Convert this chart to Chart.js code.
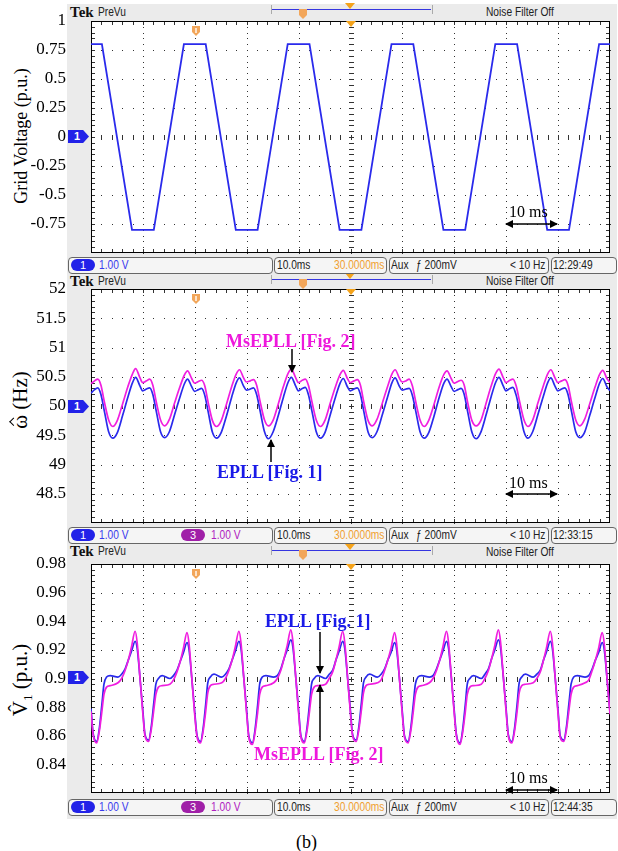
<!DOCTYPE html>
<html>
<head>
<meta charset="utf-8">
<title>EPLL / MsEPLL scope captures</title>
<script src="https://cdn.jsdelivr.net/npm/chart.js@4.4.1/dist/chart.umd.min.js"></script>
<style>
  body { margin:0; width:618px; height:851px; background:#fff; position:relative; overflow:hidden; font-family:"Liberation Serif","Times New Roman",serif; }
  .bezel { position:absolute; left:67px; top:4px; width:550px; height:815px; background:#ebebeb; }
  .tek { position:absolute; left:70px; font:bold 15px "Liberation Serif",serif; color:#111; line-height:15px; }
  .scr { position:absolute; white-space:nowrap; font-family:"Liberation Sans",sans-serif; font-size:12px; line-height:14px; color:#222; transform:scaleX(0.85); transform-origin:0 0; }
  .box { position:absolute; height:17px; border:1px solid #666; border-radius:4px; background:#f5f5f5; box-sizing:border-box; }
  .pill { position:absolute; width:24px; height:12px; border-radius:6px; color:#fff; text-align:center; line-height:12px; font-family:"Liberation Sans",sans-serif; font-size:11px; }
  .brk { position:absolute; height:9px; border:1px solid #aaa; border-top:none; border-bottom:none; }
  .bline { position:absolute; height:1px; background:#3535e0; }
  .otri { position:absolute; width:10px; height:6px; background:#f5a31a; clip-path:polygon(0 0,100% 0,50% 100%); }
  .oshield { position:absolute; width:8px; height:10px; background:#f2a65a; clip-path:polygon(0 0,100% 0,100% 60%,50% 100%,0 60%); }
  .chmark { position:absolute; left:68px; width:21px; height:13px; background:#2222e8; color:#fff; font:bold 11px "Liberation Sans",sans-serif; line-height:13px; padding-left:6px; box-sizing:border-box; clip-path:polygon(0 0,72% 0,100% 50%,72% 100%,0 100%); }
  .ytitle { position:absolute; transform:translate(-50%,-50%) rotate(-90deg); white-space:nowrap; color:#000; font-family:"Liberation Serif",serif; }
  .hat { display:inline-block; position:relative; }
  .hat i { position:absolute; left:50%; top:3px; width:5px; height:5px; border-top:1px solid #000; border-left:1px solid #000; transform:translateX(-50%) rotate(45deg); }
  .note { position:absolute; font:bold 18px "Liberation Serif",serif; white-space:nowrap; line-height:18px; }
  .ms { position:absolute; font:16px "Liberation Serif",serif; white-space:nowrap; line-height:16px; }
  canvas { position:absolute; left:0; }
  svg { position:absolute; left:0; top:0; }
</style>
</head>
<body>
<div class="bezel"></div>

<!-- headers -->
<div class="tek" style="top:5px">Tek</div><div class="scr" style="left:98px;top:5px">PreVu</div>
<div class="tek" style="top:274px">Tek</div><div class="scr" style="left:98px;top:274px">PreVu</div>
<div class="tek" style="top:544px">Tek</div><div class="scr" style="left:98px;top:544px">PreVu</div>
<div class="brk" style="left:271px;top:5px;width:160px"></div><div class="bline" style="left:272px;top:9px;width:159px"></div>
<div class="brk" style="left:271px;top:275px;width:160px"></div><div class="bline" style="left:272px;top:279px;width:159px"></div>
<div class="brk" style="left:271px;top:546px;width:160px"></div><div class="bline" style="left:272px;top:550px;width:159px"></div>
<div class="otri" style="left:345px;top:3px"></div><div class="oshield" style="left:299px;top:9px"></div>
<div class="otri" style="left:345px;top:273px"></div><div class="oshield" style="left:299px;top:279px"></div>
<div class="otri" style="left:345px;top:544px"></div><div class="oshield" style="left:299px;top:550px"></div>
<div class="scr" style="left:486px;top:5px">Noise Filter Off</div>
<div class="scr" style="left:486px;top:274px">Noise Filter Off</div>
<div class="scr" style="left:486px;top:545px">Noise Filter Off</div>

<!-- status bars -->
<div class="box" style="left:68px;top:257px;width:205px"></div>
<div class="pill" style="left:71px;top:259px;background:#2222e8">1</div>
<div class="scr" style="left:99px;top:258px;color:#3a3aee">1.00 V</div>
<div class="box" style="left:274px;top:257px;width:113px"></div>
<div class="scr" style="left:277px;top:258px">10.0ms</div>
<div class="scr" style="left:334px;top:258px;color:#f0a030">30.0000ms</div>
<div class="box" style="left:389px;top:257px;width:160px"></div>
<div class="scr" style="left:391px;top:258px">Aux</div>
<div class="scr" style="left:416px;top:258px">ƒ 200mV</div>
<div class="scr" style="left:510px;top:258px">&lt; 10 Hz</div>
<div class="box" style="left:551px;top:257px;width:66px"></div>
<div class="scr" style="left:553px;top:258px">12:29:49</div>

<div class="box" style="left:68px;top:527px;width:205px"></div>
<div class="pill" style="left:71px;top:529px;background:#2222e8">1</div>
<div class="scr" style="left:99px;top:528px;color:#3a3aee">1.00 V</div>
<div class="pill" style="left:181px;top:529px;background:#a020a8">3</div>
<div class="scr" style="left:211px;top:528px;color:#b020c0">1.00 V</div>
<div class="box" style="left:274px;top:527px;width:113px"></div>
<div class="scr" style="left:277px;top:528px">10.0ms</div>
<div class="scr" style="left:334px;top:528px;color:#f0a030">30.0000ms</div>
<div class="box" style="left:389px;top:527px;width:160px"></div>
<div class="scr" style="left:391px;top:528px">Aux</div>
<div class="scr" style="left:416px;top:528px">ƒ 200mV</div>
<div class="scr" style="left:510px;top:528px">&lt; 10 Hz</div>
<div class="box" style="left:551px;top:527px;width:66px"></div>
<div class="scr" style="left:553px;top:528px">12:33:15</div>

<div class="box" style="left:68px;top:799px;width:205px"></div>
<div class="pill" style="left:71px;top:801px;background:#2222e8">1</div>
<div class="scr" style="left:99px;top:800px;color:#3a3aee">1.00 V</div>
<div class="pill" style="left:181px;top:801px;background:#a020a8">3</div>
<div class="scr" style="left:211px;top:800px;color:#b020c0">1.00 V</div>
<div class="box" style="left:274px;top:799px;width:113px"></div>
<div class="scr" style="left:277px;top:800px">10.0ms</div>
<div class="scr" style="left:334px;top:800px;color:#f0a030">30.0000ms</div>
<div class="box" style="left:389px;top:799px;width:160px"></div>
<div class="scr" style="left:391px;top:800px">Aux</div>
<div class="scr" style="left:416px;top:800px">ƒ 200mV</div>
<div class="scr" style="left:510px;top:800px">&lt; 10 Hz</div>
<div class="box" style="left:551px;top:799px;width:66px"></div>
<div class="scr" style="left:553px;top:800px">12:44:35</div>

<!-- y titles -->
<div class="ytitle" style="left:21px;top:136px;font-size:18px">Grid Voltage (p.u.)</div>
<div class="ytitle" style="left:20px;top:400px;font-size:21px"><span class="hat">ω<i></i></span> (Hz)</div>
<div class="ytitle" style="left:22px;top:680px;font-size:21px">V̂<sub style="font-size:13px">1</sub> (p.u.)</div>

<canvas id="c1" width="618" height="256" style="top:9px"></canvas>
<canvas id="c2" width="618" height="258" style="top:277px"></canvas>
<canvas id="c3" width="618" height="253" style="top:552px"></canvas>

<div class="chmark" style="top:130px">1</div>
<div class="chmark" style="top:400px">1</div>
<div class="chmark" style="top:671px">1</div>

<!-- annotations -->
<div class="ms" style="left:509px;top:204px">10 ms</div>
<div class="ms" style="left:509px;top:475px">10 ms</div>
<div class="ms" style="left:509px;top:770px">10 ms</div>
<div class="note" style="left:226px;top:332px;color:#ee18dc">MsEPLL [Fig. 2]</div>
<div class="note" style="left:217px;top:463px;color:#1a1ae8">EPLL [Fig. 1]</div>
<div class="note" style="left:265px;top:612px;color:#1a1ae8">EPLL [Fig. 1]</div>
<div class="note" style="left:254px;top:745px;color:#ee18dc">MsEPLL [Fig. 2]</div>
<div style="position:absolute;left:296px;top:832px;font:18px 'Liberation Serif',serif">(b)</div>

<svg width="618" height="851">
  <defs>
    <marker id="ah" markerWidth="8" markerHeight="8" refX="7" refY="4" orient="auto" markerUnits="userSpaceOnUse">
      <path d="M0,0 L8,4 L0,8 Z" fill="#000"/>
    </marker>
  </defs>
  <g stroke="#000" stroke-width="1.5" fill="none">
    <line x1="531" y1="224" x2="506" y2="224" marker-end="url(#ah)"/>
    <line x1="531" y1="224" x2="557" y2="224" marker-end="url(#ah)"/>
    <line x1="531" y1="494" x2="506" y2="494" marker-end="url(#ah)"/>
    <line x1="531" y1="494" x2="557" y2="494" marker-end="url(#ah)"/>
    <line x1="531" y1="790" x2="506" y2="790" marker-end="url(#ah)"/>
    <line x1="531" y1="790" x2="557" y2="790" marker-end="url(#ah)"/>
    <line x1="292" y1="349" x2="292" y2="372" marker-end="url(#ah)"/>
    <line x1="271" y1="462" x2="271" y2="440" marker-end="url(#ah)"/>
    <line x1="320" y1="632" x2="320" y2="673" marker-end="url(#ah)"/>
    <line x1="320" y1="741" x2="320" y2="685" marker-end="url(#ah)"/>
  </g>
</svg>

<script>
// tick labels, bottom to top
var ticksGrid = ['', '-0.75', '-0.5', '-0.25', '0', '0.25', '0.5', '0.75', '1'];
var ticksFreq = ['', '48.5', '49', '49.5', '50', '50.5', '51', '51.5', '52'];
var ticksAmp  = ['', '0.84', '0.86', '0.88', '0.9', '0.92', '0.94', '0.96', '0.98'];

// panel 1 : grid voltage (trapezoid corners), time in ms
var tGrid = [0, 2.1, 7.9, 12.1, 17.9, 22.1, 27.9, 32.1, 37.9, 42.1, 47.9, 52.1, 57.9, 62.1, 67.9, 72.1, 77.9, 82.1, 87.9, 92.1, 97.9, 100];
var vGrid = [0.8, 0.8, -0.8, -0.8, 0.8, 0.8, -0.8, -0.8, 0.8, 0.8, -0.8, -0.8, 0.8, 0.8, -0.8, -0.8, 0.8, 0.8, -0.8, -0.8, 0.8, 0.8];

// panel 2 : estimated frequency
var tFreq = [
  0, 0.7, 1.3, 1.9, 2.6, 3.4,
  4.2, 5.1, 6.1, 7.1, 8.0, 8.6, 9.4, 9.95, 10.7, 11.3, 11.9, 12.6, 13.4,
  14.2, 15.1, 16.1, 17.1, 18.0, 18.6, 19.4, 19.95, 20.7, 21.3, 21.9, 22.6, 23.4,
  24.2, 25.1, 26.1, 27.1, 28.0, 28.6, 29.4, 29.95, 30.7, 31.3, 31.9, 32.6, 33.4,
  34.2, 35.1, 36.1, 37.1, 38.0, 38.6, 39.4, 39.95, 40.7, 41.3, 41.9, 42.6, 43.4,
  44.2, 45.1, 46.1, 47.1, 48.0, 48.6, 49.4, 49.95, 50.7, 51.3, 51.9, 52.6, 53.4,
  54.2, 55.1, 56.1, 57.1, 58.0, 58.6, 59.4, 59.95, 60.7, 61.3, 61.9, 62.6, 63.4,
  64.2, 65.1, 66.1, 67.1, 68.0, 68.6, 69.4, 69.95, 70.7, 71.3, 71.9, 72.6, 73.4,
  74.2, 75.1, 76.1, 77.1, 78.0, 78.6, 79.4, 79.95, 80.7, 81.3, 81.9, 82.6, 83.4,
  84.2, 85.1, 86.1, 87.1, 88.0, 88.6, 89.4, 89.95, 90.7, 91.3, 91.9, 92.6, 93.4,
  94.2, 95.1, 96.1, 97.1, 98.0, 98.6, 99.4, 100
];
var freqMsepll = [
  50.38, 50.43, 50.46, 50.36, 50.06, 49.76,
  49.65, 49.76, 50.04, 50.33, 50.55, 50.64, 50.49, 50.40, 50.43, 50.46, 50.36, 50.06, 49.76,
  49.66, 49.77, 50.05, 50.32, 50.53, 50.60, 50.47, 50.39, 50.42, 50.44, 50.35, 50.05, 49.75,
  49.65, 49.75, 50.03, 50.33, 50.55, 50.62, 50.48, 50.41, 50.43, 50.45, 50.36, 50.07, 49.77,
  49.66, 49.76, 50.04, 50.34, 50.56, 50.63, 50.49, 50.40, 50.44, 50.46, 50.35, 50.06, 49.76,
  49.65, 49.76, 50.05, 50.33, 50.54, 50.61, 50.47, 50.40, 50.43, 50.45, 50.36, 50.05, 49.75,
  49.66, 49.77, 50.04, 50.32, 50.55, 50.62, 50.48, 50.41, 50.43, 50.46, 50.35, 50.06, 49.76,
  49.65, 49.76, 50.03, 50.33, 50.54, 50.60, 50.47, 50.39, 50.42, 50.44, 50.36, 50.05, 49.75,
  49.66, 49.75, 50.04, 50.34, 50.56, 50.63, 50.49, 50.40, 50.44, 50.46, 50.35, 50.07, 49.77,
  49.65, 49.76, 50.05, 50.33, 50.55, 50.62, 50.48, 50.40, 50.43, 50.45, 50.36, 50.06, 49.76,
  49.66, 49.77, 50.04, 50.32, 50.54, 50.61, 50.47, 50.40
];
var freqEpll = [
  50.22, 50.28, 50.31, 50.20, 49.90, 49.56,
  49.45, 49.55, 49.84, 50.15, 50.40, 50.49, 50.35, 50.26, 50.29, 50.31, 50.20, 49.90, 49.56,
  49.46, 49.56, 49.85, 50.14, 50.38, 50.46, 50.33, 50.25, 50.28, 50.30, 50.19, 49.89, 49.55,
  49.45, 49.55, 49.83, 50.15, 50.40, 50.48, 50.34, 50.27, 50.29, 50.31, 50.20, 49.91, 49.57,
  49.44, 49.56, 49.84, 50.16, 50.41, 50.49, 50.35, 50.26, 50.30, 50.32, 50.19, 49.90, 49.56,
  49.45, 49.55, 49.85, 50.15, 50.39, 50.47, 50.33, 50.26, 50.29, 50.31, 50.20, 49.89, 49.55,
  49.46, 49.56, 49.84, 50.14, 50.40, 50.48, 50.34, 50.27, 50.29, 50.30, 50.19, 49.90, 49.56,
  49.45, 49.55, 49.83, 50.15, 50.39, 50.46, 50.33, 50.25, 50.28, 50.30, 50.20, 49.89, 49.55,
  49.44, 49.55, 49.84, 50.16, 50.41, 50.49, 50.35, 50.26, 50.30, 50.32, 50.19, 49.91, 49.57,
  49.45, 49.56, 49.85, 50.15, 50.40, 50.48, 50.34, 50.26, 50.29, 50.31, 50.20, 49.90, 49.56,
  49.46, 49.55, 49.84, 50.14, 50.39, 50.47, 50.33, 50.26
];

// panel 3 : estimated fundamental amplitude
var tAmp = [
  0, 0.4,
  1.1, 1.6, 2.1, 2.5, 3.0, 3.7, 5.2, 5.9, 6.6, 7.2, 7.8, 8.5, 8.9, 9.45, 10.0, 10.4,
  11.1, 11.6, 12.1, 12.5, 13.0, 13.7, 15.2, 15.9, 16.6, 17.2, 17.8, 18.5, 18.9, 19.45, 20.0, 20.4,
  21.1, 21.6, 22.1, 22.5, 23.0, 23.7, 25.2, 25.9, 26.6, 27.2, 27.8, 28.5, 28.9, 29.45, 30.0, 30.4,
  31.1, 31.6, 32.1, 32.5, 33.0, 33.7, 35.2, 35.9, 36.6, 37.2, 37.8, 38.5, 38.9, 39.45, 40.0, 40.4,
  41.1, 41.6, 42.1, 42.5, 43.0, 43.7, 45.2, 45.9, 46.6, 47.2, 47.8, 48.5, 48.9, 49.45, 50.0, 50.4,
  51.1, 51.6, 52.1, 52.5, 53.0, 53.7, 55.2, 55.9, 56.6, 57.2, 57.8, 58.5, 58.9, 59.45, 60.0, 60.4,
  61.1, 61.6, 62.1, 62.5, 63.0, 63.7, 65.2, 65.9, 66.6, 67.2, 67.8, 68.5, 68.9, 69.45, 70.0, 70.4,
  71.1, 71.6, 72.1, 72.5, 73.0, 73.7, 75.2, 75.9, 76.6, 77.2, 77.8, 78.5, 78.9, 79.45, 80.0, 80.4,
  81.1, 81.6, 82.1, 82.5, 83.0, 83.7, 85.2, 85.9, 86.6, 87.2, 87.8, 88.5, 88.9, 89.45, 90.0, 90.4,
  91.1, 91.6, 92.1, 92.5, 93.0, 93.7, 95.2, 95.9, 96.6, 97.2, 97.8, 98.5, 98.9, 99.45, 100
];
var ampEpll = [
  0.879, 0.862,
  0.856, 0.865, 0.882, 0.896, 0.901, 0.902, 0.901, 0.903, 0.907, 0.913, 0.919, 0.926, 0.921, 0.900, 0.877, 0.861,
  0.857, 0.866, 0.883, 0.896, 0.900, 0.902, 0.900, 0.902, 0.906, 0.912, 0.918, 0.925, 0.920, 0.899, 0.876, 0.861,
  0.856, 0.865, 0.882, 0.897, 0.901, 0.903, 0.901, 0.903, 0.907, 0.913, 0.919, 0.926, 0.921, 0.900, 0.877, 0.860,
  0.855, 0.864, 0.881, 0.896, 0.901, 0.902, 0.901, 0.902, 0.907, 0.914, 0.920, 0.927, 0.922, 0.901, 0.878, 0.861,
  0.856, 0.865, 0.882, 0.896, 0.900, 0.902, 0.900, 0.903, 0.906, 0.913, 0.919, 0.926, 0.921, 0.900, 0.877, 0.861,
  0.857, 0.866, 0.883, 0.897, 0.901, 0.903, 0.901, 0.903, 0.907, 0.913, 0.918, 0.925, 0.920, 0.899, 0.876, 0.860,
  0.856, 0.865, 0.882, 0.896, 0.901, 0.902, 0.901, 0.902, 0.907, 0.913, 0.919, 0.926, 0.921, 0.900, 0.877, 0.861,
  0.855, 0.864, 0.881, 0.896, 0.900, 0.902, 0.900, 0.903, 0.907, 0.914, 0.920, 0.927, 0.922, 0.901, 0.878, 0.861,
  0.856, 0.865, 0.882, 0.897, 0.901, 0.903, 0.901, 0.903, 0.906, 0.913, 0.919, 0.926, 0.921, 0.900, 0.877, 0.860,
  0.857, 0.866, 0.883, 0.896, 0.901, 0.902, 0.901, 0.902, 0.907, 0.913, 0.918, 0.925, 0.920, 0.899, 0.877
];
var ampMsepll = [
  0.877, 0.861,
  0.855, 0.863, 0.877, 0.889, 0.894, 0.895, 0.897, 0.900, 0.906, 0.913, 0.922, 0.933, 0.925, 0.900, 0.875, 0.860,
  0.856, 0.864, 0.878, 0.889, 0.894, 0.895, 0.896, 0.899, 0.905, 0.912, 0.921, 0.932, 0.924, 0.899, 0.874, 0.860,
  0.855, 0.863, 0.877, 0.890, 0.895, 0.896, 0.897, 0.900, 0.906, 0.913, 0.922, 0.933, 0.925, 0.900, 0.875, 0.859,
  0.854, 0.862, 0.876, 0.889, 0.894, 0.895, 0.897, 0.900, 0.906, 0.914, 0.923, 0.934, 0.926, 0.901, 0.876, 0.860,
  0.855, 0.863, 0.877, 0.889, 0.894, 0.895, 0.896, 0.900, 0.905, 0.913, 0.922, 0.933, 0.925, 0.900, 0.875, 0.860,
  0.856, 0.864, 0.878, 0.890, 0.895, 0.896, 0.897, 0.899, 0.906, 0.913, 0.921, 0.932, 0.924, 0.899, 0.874, 0.859,
  0.855, 0.863, 0.877, 0.889, 0.894, 0.895, 0.897, 0.900, 0.906, 0.913, 0.922, 0.933, 0.925, 0.900, 0.875, 0.860,
  0.854, 0.862, 0.876, 0.889, 0.894, 0.895, 0.896, 0.900, 0.906, 0.914, 0.923, 0.934, 0.926, 0.901, 0.876, 0.860,
  0.855, 0.863, 0.877, 0.890, 0.895, 0.896, 0.897, 0.900, 0.905, 0.913, 0.922, 0.933, 0.925, 0.900, 0.875, 0.859,
  0.856, 0.864, 0.878, 0.889, 0.894, 0.895, 0.897, 0.899, 0.906, 0.913, 0.921, 0.932, 0.924, 0.899, 0.875
];

var BLUE = '#2a2aec';
var MAGENTA = '#f01ee0';

function pts(ts, vs) {
  return ts.map(function (t, i) { return { x: t, y: vs[i] }; });
}

// Tek style graticule : dotted divisions, center cross ticks, edge ticks
var tekGrid = {
  id: 'tekGrid',
  beforeDatasetsDraw: function (chart) {
    var ctx = chart.ctx, a = chart.chartArea;
    var w = a.right - a.left, h = a.bottom - a.top;
    ctx.save();
    ctx.fillStyle = '#fff';
    ctx.fillRect(a.left, a.top, w, h);
    ctx.fillStyle = '#333';
    for (var i = 1; i < 10; i++) {
      var x = Math.round(a.left + i * w / 10);
      for (var k = 0; k <= 40; k++) ctx.fillRect(x, Math.round(a.top + k * h / 40), 1, 1);
    }
    for (var j = 1; j < 8; j++) {
      var y = Math.round(a.top + j * h / 8);
      for (var k2 = 0; k2 <= 50; k2++) ctx.fillRect(Math.round(a.left + k2 * w / 50), y, 1, 1);
    }
    var cx = Math.round(a.left + w / 2), cy = Math.round(a.top + h / 2);
    for (var m = 1; m < 40; m++) ctx.fillRect(cx - 2, Math.round(a.top + m * h / 40), 5, 1);
    for (var n = 1; n < 50; n++) ctx.fillRect(Math.round(a.left + n * w / 50), cy - 2, 1, 5);
    for (var p = 1; p < 50; p++) {
      var xx = Math.round(a.left + p * w / 50);
      ctx.fillRect(xx, a.top, 1, 4);
      ctx.fillRect(xx, a.bottom - 4, 1, 4);
    }
    for (var q = 1; q < 40; q++) {
      var yy = Math.round(a.top + q * h / 40);
      ctx.fillRect(a.left, yy, 4, 1);
      ctx.fillRect(a.right - 4, yy, 4, 1);
    }
    ctx.strokeStyle = '#000';
    ctx.lineWidth = 1;
    ctx.strokeRect(a.left + 0.5, a.top + 0.5, w - 1, h - 1);
    ctx.restore();
  },
  afterDatasetsDraw: function (chart) {
    var ctx = chart.ctx, a = chart.chartArea;
    var cx = Math.round((a.left + a.right) / 2);
    var sx = Math.round(chart.scales.x.getPixelForValue(20.2));
    ctx.save();
    // trigger marker
    ctx.fillStyle = '#f5a31a';
    ctx.beginPath();
    ctx.moveTo(cx - 5, a.top); ctx.lineTo(cx + 5, a.top); ctx.lineTo(cx, a.top + 6); ctx.closePath();
    ctx.fill();
    // position marker
    var ty = a.top + 5;
    ctx.fillStyle = '#f2a65a';
    ctx.beginPath();
    ctx.moveTo(sx - 4, ty); ctx.lineTo(sx + 4, ty); ctx.lineTo(sx + 4, ty + 6); ctx.lineTo(sx, ty + 10); ctx.lineTo(sx - 4, ty + 6); ctx.closePath();
    ctx.fill();
    ctx.fillStyle = '#fde3c8';
    ctx.fillRect(sx - 1, ty + 2, 2, 5);
    ctx.restore();
  }
};

function makePanel(id, datasets, yMin, yMax, step, labels, tension) {
  return new Chart(document.getElementById(id), {
    type: 'line',
    data: { datasets: datasets },
    options: {
      responsive: false,
      animation: false,
      devicePixelRatio: 1,
      layout: { padding: { top: 12, bottom: 12, left: 0, right: 8 } },
      plugins: { legend: { display: false }, tooltip: { enabled: false } },
      elements: { point: { radius: 0 }, line: { tension: tension, cubicInterpolationMode: tension ? 'monotone' : 'default' } },
      scales: {
        x: { type: 'linear', min: 0, max: 100, display: false },
        y: {
          type: 'linear', min: yMin, max: yMax,
          grid: { display: false, drawTicks: false },
          border: { display: false },
          afterFit: function (s) { s.width = 91; s.paddingTop = 0; s.paddingBottom = 0; },
          ticks: {
            stepSize: step, padding: 25, color: '#000',
            font: { family: 'Liberation Serif', size: 17 },
            callback: function (v, i) { return labels[i]; }
          }
        }
      }
    },
    plugins: [tekGrid]
  });
}

makePanel('c1', [
  { data: pts(tGrid, vGrid), borderColor: BLUE, borderWidth: 1.8 }
], -1, 1, 0.25, ticksGrid, 0);

makePanel('c2', [
  { data: pts(tFreq, freqMsepll), borderColor: MAGENTA, borderWidth: 1.7 },
  { data: pts(tFreq, freqEpll), borderColor: BLUE, borderWidth: 1.7 }
], 48, 52, 0.5, ticksFreq, 1);

makePanel('c3', [
  { data: pts(tAmp, ampMsepll), borderColor: MAGENTA, borderWidth: 1.7 },
  { data: pts(tAmp, ampEpll), borderColor: BLUE, borderWidth: 1.7 }
], 0.82, 0.98, 0.02, ticksAmp, 1);
</script>
</body>
</html>
